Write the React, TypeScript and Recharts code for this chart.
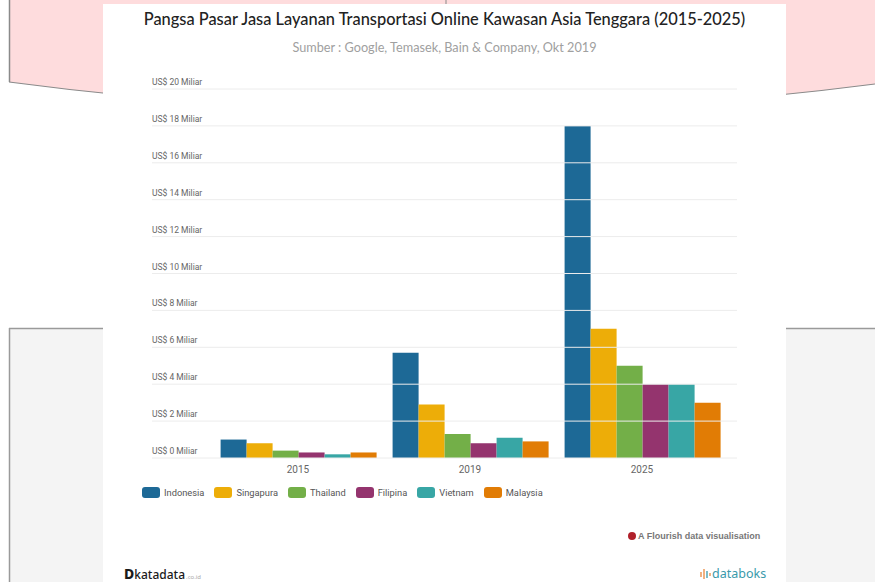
import React from "react";
import { Bar, BarChart, XAxis, YAxis } from "recharts";

const years = ["2015", "2019", "2025"];
const seriesNames = ["Indonesia", "Singapura", "Thailand", "Filipina", "Vietnam", "Malaysia"];
const indonesia = [1.0, 5.7, 18];
const singapura = [0.8, 2.9, 7];
const thailand = [0.4, 1.3, 5];
const filipina = [0.3, 0.8, 4];
const vietnam = [0.2, 1.1, 4];
const malaysia = [0.3, 0.9, 3];
const yTicks = [0, 2, 4, 6, 8, 10, 12, 14, 16, 18, 20];

const seriesValues = [indonesia, singapura, thailand, filipina, vietnam, malaysia];
const colors = ["#1d6996", "#edad08", "#73af48", "#94346e", "#38a6a5", "#e17c05"];

const data = years.map((year, i) => {
  const row: Record<string, string | number> = { year };
  seriesNames.forEach((name, s) => {
    row[name] = seriesValues[s][i];
  });
  return row;
});

const FONT = "Roboto, 'Noto Sans', sans-serif";

// label sits above the gridline, line runs past the plot on both sides
function YTick(props: any) {
  const { y, payload } = props;
  return (
    <g>
      <line x1={152} x2={737} y1={y} y2={y} stroke="#ececec" strokeWidth={1} />
      <text x={152} y={y - 4} fontSize={8.5} fill="#666" fontFamily={FONT}>
        {`US$ ${payload.value} Miliar`}
      </text>
    </g>
  );
}

function Background() {
  return (
    <svg width={875} height={582} style={{ position: "absolute", left: 0, top: 0 }}>
      <rect x={9} y={328} width={866} height={254} fill="#f4f4f4" />
      <line x1={9} x2={875} y1={328.5} y2={328.5} stroke="#9a9a9a" strokeWidth={1.5} />
      <line x1={9.5} x2={9.5} y1={328} y2={582} stroke="#9a9a9a" strokeWidth={1.5} />
      <path d="M9,0 L875,0 L875,84 Q446,140 9,82 Z" fill="#fedcdd" />
      <path d="M875,84 Q446,140 9,82" fill="none" stroke="#8a8a8a" strokeWidth={1.2} />
      <line x1={9.5} x2={9.5} y1={0} y2={82} stroke="#8a8a8a" strokeWidth={1.5} />
      <line x1={446} x2={446} y1={0} y2={6} stroke="#8a8a8a" strokeWidth={1} />
    </svg>
  );
}

export default function App() {
  return (
    <div style={{ position: "absolute", left: 0, top: 0, width: 875, height: 582, overflow: "hidden", background: "#fff" }}>
      <Background />
      <div style={{ position: "absolute", left: 103, top: 4, width: 683, height: 578, background: "#fff" }} />

      <div
        style={{
          position: "absolute",
          left: 103,
          top: 9,
          width: 683,
          textAlign: "center",
          fontFamily: "Lato, 'Noto Sans', sans-serif",
          fontSize: 16.4,
          fontWeight: 500,
          color: "#222",
        }}
      >
        Pangsa Pasar Jasa Layanan Transportasi Online Kawasan Asia Tenggara (2015-2025)
      </div>
      <div
        style={{
          position: "absolute",
          left: 103,
          top: 39,
          width: 683,
          textAlign: "center",
          fontFamily: "Lato, 'Noto Sans', sans-serif",
          fontSize: 12.7,
          color: "#a0a0a0",
        }}
      >
        Sumber : Google, Temasek, Bain &amp; Company, Okt 2019
      </div>

      <div style={{ position: "absolute", left: 0, top: 0 }}>
        <BarChart
          width={875}
          height={582}
          data={data}
          margin={{ top: 89, right: 147, left: 152, bottom: 94 }}
          barCategoryGap="5%"
          barGap={0}
        >
          <YAxis
            width={60}
            domain={[0, 20]}
            ticks={yTicks}
            axisLine={false}
            tickLine={false}
            tick={<YTick />}
          />
          <XAxis
            dataKey="year"
            height={30}
            axisLine={false}
            tickLine={false}
            tick={{ fontSize: 10, fill: "#666", fontFamily: FONT }}
          />
          {seriesNames.map((name, s) => (
            <Bar key={name} dataKey={name} fill={colors[s]} isAnimationActive={false} />
          ))}
        </BarChart>
      </div>

      <div
        style={{
          position: "absolute",
          left: 142,
          top: 487,
          display: "flex",
          alignItems: "center",
          fontFamily: FONT,
          fontSize: 9.3,
          color: "#555",
        }}
      >
        {seriesNames.map((name, s) => (
          <div key={name} style={{ display: "flex", alignItems: "center", marginRight: 10 }}>
            <span
              style={{
                display: "inline-block",
                width: 18,
                height: 11,
                borderRadius: 3,
                background: colors[s],
                marginRight: 4,
              }}
            />
            <span>{name}</span>
          </div>
        ))}
      </div>

      <div
        style={{
          position: "absolute",
          left: 628,
          top: 531,
          display: "flex",
          alignItems: "center",
          fontFamily: "'Liberation Sans', Arial, sans-serif",
          fontSize: 9,
          fontWeight: 700,
          color: "#777",
        }}
      >
        <span
          style={{
            display: "inline-block",
            width: 8,
            height: 8,
            borderRadius: 4,
            background: "#b0202a",
            marginRight: 2,
          }}
        />
        A Flourish data visualisation
      </div>

      <div
        style={{
          position: "absolute",
          left: 124,
          top: 567,
          height: 14,
          lineHeight: "14px",
          fontFamily: "'Noto Sans', sans-serif",
          color: "#1a1a1a",
          display: "flex",
          alignItems: "baseline",
        }}
      >
        <span style={{ fontSize: 14, fontWeight: 800 }}>D</span>
        <span style={{ fontSize: 12, fontWeight: 500 }}>katadata</span>
        <span style={{ fontSize: 6, color: "#aaa", marginLeft: 1 }}>.co.id</span>
      </div>

      <div
        style={{
          position: "absolute",
          left: 699,
          top: 567,
          height: 14,
          lineHeight: "14px",
          display: "flex",
          alignItems: "center",
          fontFamily: "'Noto Sans', sans-serif",
          fontSize: 12.5,
          color: "#3a9aab",
        }}
      >
        <svg width={12} height={12} style={{ marginRight: 1 }}>
          <line x1={2} x2={2} y1={4} y2={9} stroke="#e9873d" strokeWidth={1.3} />
          <line x1={5} x2={5} y1={1} y2={11} stroke="#e9873d" strokeWidth={1.3} />
          <line x1={8} x2={8} y1={3} y2={10} stroke="#3a9aab" strokeWidth={1.3} />
          <line x1={11} x2={11} y1={5} y2={8} stroke="#e9873d" strokeWidth={1.3} />
        </svg>
        databoks
      </div>
    </div>
  );
}
